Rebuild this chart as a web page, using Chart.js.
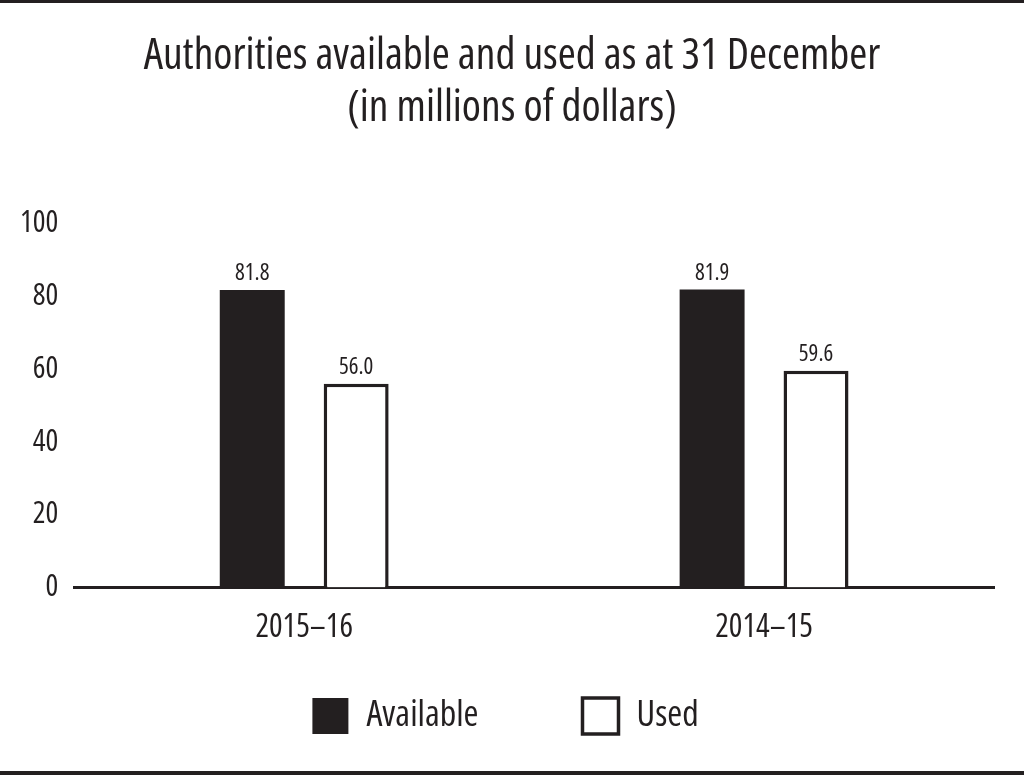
<!DOCTYPE html>
<html>
<head>
<meta charset="utf-8">
<script src="https://cdn.jsdelivr.net/npm/chart.js@4"></script>
<style>
  html, body { margin: 0; padding: 0; background: #fff; }
  #wrap { width: 1024px; height: 775px; box-sizing: border-box; border-top: 3px solid #231f20; border-bottom: 4px solid #231f20; }
  #c { display: block; }
</style>
</head>
<body>
<div id="wrap"><canvas id="c" width="1024" height="768"></canvas></div>
<script>
const categories = ['2015\u201316', '2014\u201315'];
const available = [81.8, 81.9];
const used = [56.0, 59.6];
const yTicks = [0, 20, 40, 60, 80, 100];
const seriesNames = ['Available', 'Used'];
const titleLines = ['Authorities available and used as at 31 December', '(in millions of dollars)'];

const INK = '#231f20';
const FAMILY = "'Open Sans', 'Liberation Sans', sans-serif";
const STRETCH = 'condensed';   // goes into the canvas font shorthand
const LEGEND_TOP = 591;
const LEGEND_LEFT = 17;
const TITLE_SHIFT = 26;

Chart.defaults.font.family = FAMILY;
Chart.defaults.font.weight = STRETCH;
Chart.defaults.color = INK;

const valueLabels = {
  id: 'valueLabels',
  afterDatasetsDraw(chart) {
    const ctx = chart.ctx;
    ctx.save();
    ctx.fillStyle = INK;
    ctx.font = STRETCH + " 23px " + FAMILY;
    ctx.textAlign = 'center';
    ctx.textBaseline = 'alphabetic';
    chart.data.datasets.forEach((ds, di) => {
      chart.getDatasetMeta(di).data.forEach((bar, i) => {
        ctx.fillText(ds.data[i].toFixed(1), bar.x, bar.y - 10);
      });
    });
    ctx.restore();
  }
};

const boxPlace = {
  id: 'boxPlace',
  afterLayout(chart) {
    const lg = chart.legend;
    if (lg) {
      lg.top = LEGEND_TOP;
      lg.bottom = chart.height;
      lg.height = lg.bottom - lg.top;
      lg.left = LEGEND_LEFT;
      lg.width = lg.right - lg.left;
    }
    const tt = chart.titleBlock;
    if (tt) {
      tt.left += TITLE_SHIFT;
      tt.width = tt.right - tt.left;
    }
  }
};

new Chart(document.getElementById('c'), {
  type: 'bar',
  data: {
    labels: categories,
    datasets: [
      { label: seriesNames[0], data: available, backgroundColor: INK, borderColor: INK, borderWidth: 0 },
      { label: seriesNames[1], data: used, backgroundColor: '#ffffff', borderColor: INK, borderWidth: 3.5 }
    ]
  },
  options: {
    responsive: false,
    animation: false,
    events: [],
    layout: { padding: { left: 4, right: 30, top: 0, bottom: 53 } },
    datasets: { bar: { categoryPercentage: 0.452, barPercentage: 0.625 } },
    scales: {
      x: {
        grid: { display: false, drawTicks: false },
        border: { display: true, color: INK, width: 3 },
        ticks: { color: INK, font: { size: 32, weight: STRETCH }, padding: 21 }
      },
      y: {
        min: 0, max: 100,
        afterBuildTicks(s) { s.ticks = yTicks.map(v => ({ value: v })); },
        grid: { display: false, drawTicks: false },
        border: { display: false },
        ticks: { color: INK, font: { size: 30, weight: STRETCH }, padding: 16 }
      }
    },
    plugins: {
      title: {
        display: true,
        text: titleLines,
        color: INK,
        font: { size: 43.6, weight: STRETCH, lineHeight: 1.19 },
        padding: { top: 28, bottom: 89 }
      },
      legend: {
        position: 'bottom',
        maxHeight: 50,
        labels: {
          color: INK,
          font: { size: 36, weight: STRETCH },
          boxWidth: 36, boxHeight: 36,
          padding: 104
        }
      },
      tooltip: { enabled: false }
    }
  },
  plugins: [valueLabels, boxPlace]
});
</script>
</body>
</html>
